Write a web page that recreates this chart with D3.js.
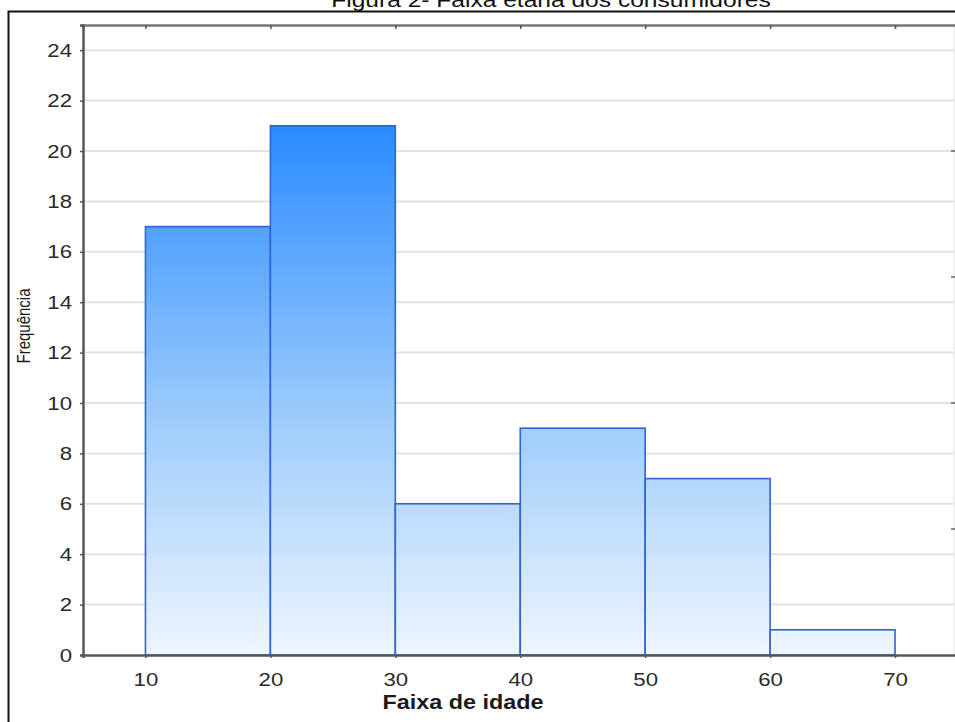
<!DOCTYPE html>
<html>
<head>
<meta charset="utf-8">
<script src="https://cdn.jsdelivr.net/npm/d3@7"></script>
<style>
  html, body { margin: 0; padding: 0; background: #fff; }
  svg { display: block; font-family: Arial, "Liberation Sans", sans-serif; }
</style>
</head>
<body>
<svg id="chart" width="955" height="722"></svg>
<script>
// ---- data ----
const binStarts = [10, 20, 30, 40, 50, 60];
const binEnds   = [20, 30, 40, 50, 60, 70];
const frequencies = [17, 21, 6, 9, 7, 1];
const xTicks = [10, 20, 30, 40, 50, 60, 70];
const yTicks = [0, 2, 4, 6, 8, 10, 12, 14, 16, 18, 20, 22, 24];
const yRightTicks = [5, 10, 15, 20];
const titleText = "Figura 2- Faixa etária dos consumidores";
const xLabel = "Faixa de idade";
const yLabel = "Frequência";

(function () {
const svg = d3.select("#chart");
const SX = 1.17; // horizontal stretch of the original image's text

const mLeft = 83, mTop = 25, mBottom = 655, mRight = 957.5;
const x = d3.scaleLinear().domain([5, 75]).range([mLeft, mRight]);
const y = d3.scaleLinear().domain([0, 25]).range([mBottom, mTop]);

// gradient tied to value scale
const defs = svg.append("defs");
const grad = defs.append("linearGradient")
  .attr("id", "barGrad")
  .attr("gradientUnits", "userSpaceOnUse")
  .attr("x1", 0).attr("x2", 0)
  .attr("y1", y(0)).attr("y2", y(21));
grad.append("stop").attr("offset", "0%").attr("stop-color", "#eef6fe");
grad.append("stop").attr("offset", "45%").attr("stop-color", "#9ccbfb");
grad.append("stop").attr("offset", "100%").attr("stop-color", "#2a8bff");

// outer frame
svg.append("rect")
  .attr("x", 8.5).attr("y", 11.5)
  .attr("width", 1000).attr("height", 800)
  .attr("fill", "none").attr("stroke", "#111").attr("stroke-width", 2);

// title (cut at top, as in the reference)
svg.append("text")
  .attr("transform", `translate(551,7) scale(${SX},1)`)
  .attr("text-anchor", "middle")
  .attr("font-size", 21)
  .attr("fill", "#111")
  .text(titleText);

// gridlines
svg.append("g")
  .selectAll("line")
  .data(yTicks.filter(d => d > 0))
  .join("line")
  .attr("x1", mLeft).attr("x2", mRight)
  .attr("y1", d => y(d)).attr("y2", d => y(d))
  .attr("stroke", "#e2e2e2").attr("stroke-width", 2);

// bars
svg.append("g")
  .selectAll("rect")
  .data(frequencies)
  .join("rect")
  .attr("x", (d, i) => x(binStarts[i]))
  .attr("width", (d, i) => x(binEnds[i]) - x(binStarts[i]))
  .attr("y", d => y(d))
  .attr("height", d => y(0) - y(d))
  .attr("fill", "url(#barGrad)")
  .attr("stroke", "#2f63d8")
  .attr("stroke-width", 1.6);

// right border (faint)
svg.append("line")
  .attr("x1", 954).attr("x2", 954)
  .attr("y1", mTop).attr("y2", mBottom)
  .attr("stroke", "#eeeeee").attr("stroke-width", 1.5);
svg.append("g")
  .selectAll("line")
  .data(yRightTicks)
  .join("line")
  .attr("x1", 951).attr("x2", 955)
  .attr("y1", d => y(d)).attr("y2", d => y(d))
  .attr("stroke", "#666").attr("stroke-width", 1.5);

// top border with inward ticks
const topAxis = svg.append("g").attr("transform", `translate(0,${mTop})`)
  .call(d3.axisTop(x).tickValues(xTicks).tickSize(-4).tickFormat(""));
topAxis.select(".domain").attr("stroke", "#777").attr("stroke-width", 2.5);
topAxis.selectAll(".tick line").attr("stroke", "#555").attr("stroke-width", 1.5);

// left axis
const yAxis = svg.append("g").attr("transform", `translate(${mLeft},0)`)
  .call(d3.axisLeft(y).tickValues(yTicks).tickSize(3).tickPadding(8));
yAxis.select(".domain").attr("stroke", "#555").attr("stroke-width", 2.5);
yAxis.selectAll(".tick line").attr("stroke", "#555").attr("stroke-width", 1.5);
yAxis.selectAll(".tick text")
  .attr("font-size", 19).attr("fill", "#2a2a2a")
  .attr("font-family", "Arial, 'Liberation Sans', sans-serif")
  .attr("x", -11 / SX)
  .attr("transform", `scale(${SX},1)`);

// bottom axis
const xAxis = svg.append("g").attr("transform", `translate(0,${mBottom})`)
  .call(d3.axisBottom(x).tickValues(xTicks).tickSize(3).tickPadding(15));
xAxis.select(".domain").attr("stroke", "#555").attr("stroke-width", 2.5);
xAxis.selectAll(".tick line").attr("stroke", "#555").attr("stroke-width", 1.5);
xAxis.selectAll(".tick text")
  .attr("font-size", 19).attr("fill", "#2a2a2a")
  .attr("font-family", "Arial, 'Liberation Sans', sans-serif")
  .attr("transform", `scale(${SX},1)`);

// axis titles
svg.append("text")
  .attr("transform", `translate(463,709) scale(${SX},1)`)
  .attr("text-anchor", "middle")
  .attr("font-size", 20).attr("font-weight", "bold")
  .attr("fill", "#1a1a1a")
  .text(xLabel);

svg.append("text")
  .attr("transform", `translate(30,326) scale(${SX},1) rotate(-90)`)
  .attr("text-anchor", "middle")
  .attr("font-size", 15)
  .attr("fill", "#1a1a1a")
  .text(yLabel);
})();
</script>
</body>
</html>
